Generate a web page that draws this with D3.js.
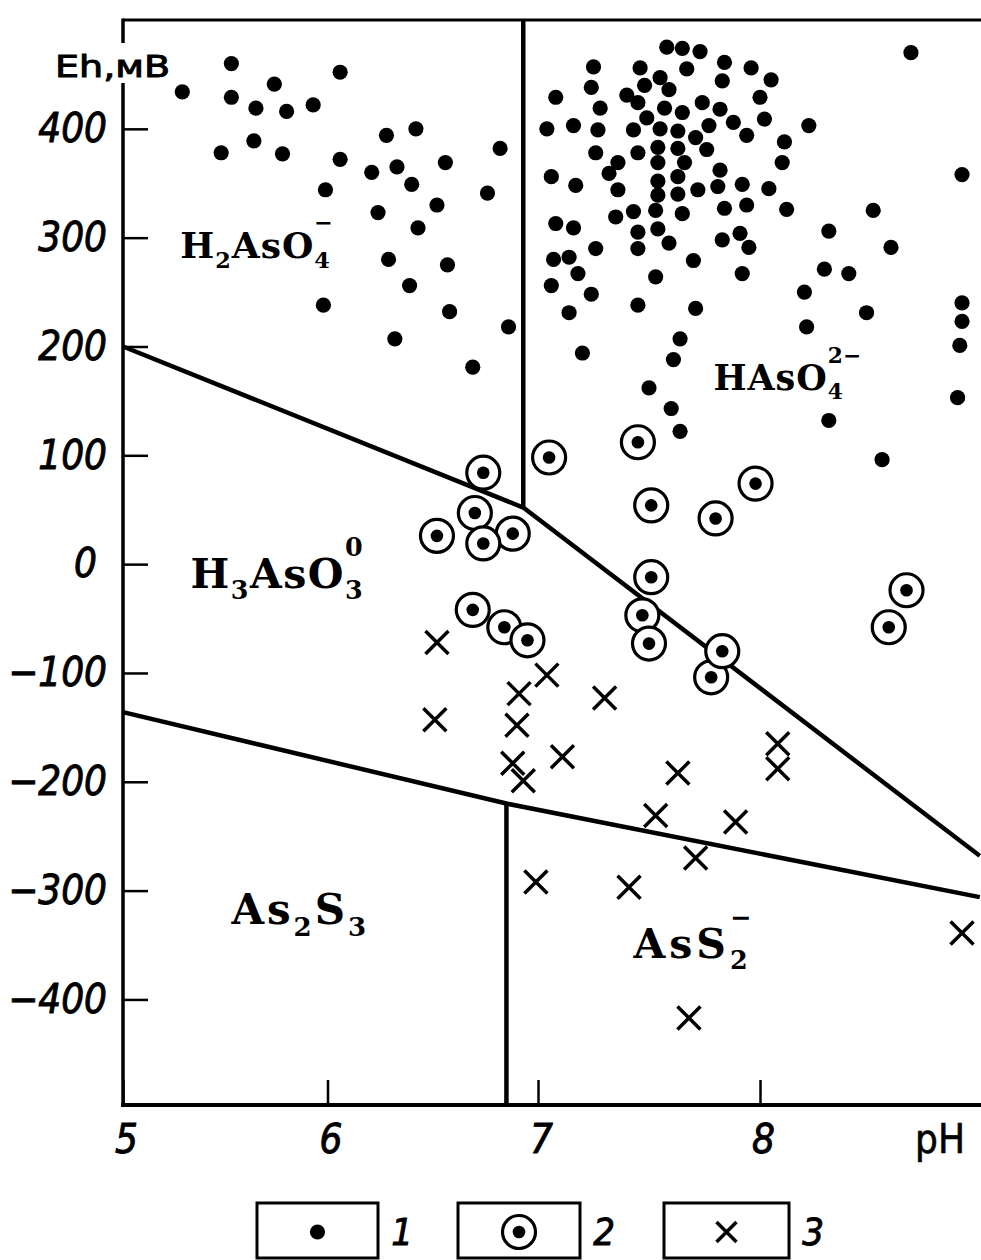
<!DOCTYPE html>
<html>
<head>
<meta charset="utf-8">
<script src="https://cdn.jsdelivr.net/npm/d3@7"></script>
<style>
  html, body { margin: 0; padding: 0; background: #fff; }
  svg { display: block; }
  .tick-label { font-family: "Liberation Sans Narrow", "DejaVu Sans Condensed", sans-serif; font-style: italic; stroke: #000; stroke-width: 0.9px; }
  .species { font-family: "DejaVu Serif", "Liberation Serif", serif; font-weight: bold; fill: #000; }
</style>
</head>
<body>
<svg id="chart" width="981" height="1260"></svg>
<script>
// ---- axis settings -------------------------------------------------------
const xTickValues = [5, 6, 7, 8];
const yTickValues = [-400, -300, -200, -100, 0, 100, 200, 300, 400];
const pHMin = 5, pHMax = 8.99;
const EhMin = -497, EhMax = 500;

// ---- samples: [pH, Eh (mV)] ----------------------------------------------
// legend 1: plain dots
const type1Points = [
  [5.29,434],[5.53,460],[5.53,429],[5.74,441],[5.65,419],[5.80,416],[5.93,422],[6.06,452],
  [5.48,378],[5.64,389],[5.78,377],[5.99,344],[6.28,394],[6.42,400],[6.06,372],[6.21,360],
  [6.33,365],[6.56,369],[6.82,382],[6.40,349],[6.24,323],[6.52,330],[6.76,341],[6.43,309],
  [6.29,280],[6.57,275],[6.39,256],[6.58,232],[5.98,238],[6.86,218],[6.32,207],[6.69,181],
  [7.25,457],[7.08,429],[7.24,438],[7.46,456],[7.28,419],[7.04,400],[7.16,403],[7.27,399],
  [7.40,431],[7.43,399],[7.26,378],[7.45,378],[7.36,369],[7.32,359],[7.36,344],[7.06,356],
  [7.17,348],[7.35,319],[7.43,324],[7.08,313],[7.16,309],[7.45,305],[7.45,290],[7.26,290],
  [7.07,280],[7.14,282],[7.18,267],[7.06,256],[7.24,248],[7.14,231],[7.45,238],[7.53,264],
  [7.20,194],[7.58,475],[7.65,474],[7.73,471],[7.67,455],[7.84,461],[7.96,456],[8.05,445],
  [7.55,447],[7.48,440],[7.59,436],[7.45,424],[7.57,419],[7.65,415],[7.74,424],[7.82,418],
  [7.88,406],[8.00,429],[8.02,409],[7.94,394],[8.11,388],[8.10,369],[7.49,410],[7.55,400],
  [7.63,398],[7.71,392],[7.77,403],[7.76,381],[7.54,383],[7.63,382],[7.54,369],[7.66,369],
  [7.63,356],[7.54,352],[7.54,339],[7.63,340],[7.72,344],[7.82,362],[7.81,347],[7.92,349],
  [8.04,345],[7.53,325],[7.65,322],[7.84,327],[7.94,330],[8.12,326],[7.54,308],[7.59,295],
  [7.83,298],[7.91,304],[7.95,291],[7.70,279],[7.92,267],[7.83,444],[8.22,403],[8.68,470],
  [8.91,358],[8.31,306],[8.51,325],[8.59,291],[8.29,271],[8.40,267],[8.20,250],[8.48,231],
  [8.21,218],[8.91,240],[8.91,223],[8.90,201],[7.71,235],[7.64,207],[7.61,188],[7.50,162],
  [7.60,143],[7.64,122],[8.31,132],[8.55,96],[8.89,153]
];
// legend 2: ringed dots
const type2Points = [
  [6.70,47],[6.88,28],[6.74,84],[6.74,19],[6.52,26],[7.05,98],[7.45,112],[7.51,54],
  [6.84,-58],[6.69,-42],[6.95,-70],[7.47,-47],[7.51,-12],[7.50,-73],[7.98,74],[7.80,42],
  [7.78,-104],[7.83,-80],[8.58,-58],[8.66,-24]
];
// legend 3: crosses
const type3Points = [
  [6.52,-72],[6.51,-143],[6.91,-119],[6.90,-148],[7.04,-102],[7.30,-123],[6.88,-183],
  [6.93,-199],[7.11,-177],[7.63,-192],[7.53,-231],[7.89,-237],[7.71,-270],[8.08,-165],
  [8.08,-188],[6.99,-292],[7.41,-297],[8.91,-339],[7.68,-417]
];

// ---- stability field boundaries: [pH, Eh] ---------------------------------
const boundaryH3AsO3 = [[5, 200], [6.93, 52], [8.99, -268]];
const boundaryH2AsO4HAsO4 = [[6.93, 52], [6.93, 500]];
const boundarySulfide = [[5, -136], [6.85, -220], [8.99, -306]];
const boundaryAs2S3AsS2 = [[6.85, -220], [6.85, -497]];

// ---- species names ---------------------------------------------------------
// each part: [text, "sub"|undefined, stacked superscript]
const speciesNames = [
  { parts: [["H"], ["2", "sub"], ["AsO"], ["4", "sub", "\u2212"]], at: [5.28, 281], size: 36, spacing: 1 },
  { parts: [["HAsO"], ["4", "sub", "2\u2212"]], at: [7.79, 160], size: 35, spacing: 1 },
  { parts: [["H"], ["3", "sub"], ["AsO"], ["3", "sub", "0"]], at: [5.33, -22], size: 41, spacing: 1.5 },
  { parts: [["As"], ["2", "sub"], ["S"], ["3", "sub"]], at: [5.53, -331], size: 42, spacing: 3 },
  { parts: [["AsS"], ["2", "sub", "\u2212"]], at: [7.43, -362], size: 41, spacing: 4 }
];

const legendItems = [
  { kind: "dot", label: "1" },
  { kind: "ring", label: "2" },
  { kind: "cross", label: "3" }
];

// ---- drawing ---------------------------------------------------------------
const svg = d3.select("#chart");
const width = +svg.attr("width");

// the pH divisions of this diagram are not quite evenly spaced
const x = d3.scaleLinear().domain([5, 6, 7, 8, 9]).range([123, 327.5, 538, 760, 982]);
const y = d3.scaleLinear().domain([EhMin, EhMax]).range([1105, 20]);

const x0 = x(pHMin), yTop = y(EhMax), yBot = y(EhMin);

// axes with inward ticks
const xAxis = d3.axisBottom(x).tickValues(xTickValues).tickSizeInner(-25).tickSizeOuter(0)
  .tickPadding(20).tickFormat(d3.format("d"));
const gx = svg.append("g").attr("transform", `translate(0,${yBot})`).call(xAxis);
gx.select(".domain").remove();
gx.selectAll(".tick line").attr("stroke", "#000").attr("stroke-width", 2.5);
gx.selectAll(".tick text").attr("class", "tick-label").attr("font-size", 40).attr("fill", "#000").attr("dx", 3);

const yAxis = d3.axisLeft(y).tickValues(yTickValues).tickSizeInner(-25).tickSizeOuter(0)
  .tickPadding(16).tickFormat(d => d < 0 ? "\u2212" + Math.abs(d) : String(d));
const gy = svg.append("g").attr("transform", `translate(${x0},0)`).call(yAxis);
gy.select(".domain").remove();
gy.selectAll(".tick line").attr("stroke", "#000").attr("stroke-width", 2.5);
gy.selectAll(".tick text").attr("class", "tick-label").attr("font-size", 40).attr("fill", "#000")
  .attr("dx", d => d === 0 ? -10 : 0);

// frame (the right side runs off the sheet)
const frame = svg.append("g").attr("stroke", "#000").attr("fill", "none");
frame.append("line").attr("x1", x0).attr("x2", width).attr("y1", yTop).attr("y2", yTop).attr("stroke-width", 3);
frame.append("line").attr("x1", x0).attr("x2", x0).attr("y1", yTop - 1.5).attr("y2", yBot + 2).attr("stroke-width", 3.5);
frame.append("line").attr("x1", x0 - 1.7).attr("x2", width).attr("y1", yBot).attr("y2", yBot).attr("stroke-width", 4);

// axis titles
svg.append("rect").attr("x", x0 - 7).attr("y", 43).attr("width", 14).attr("height", 40).attr("fill", "#fff");
svg.append("text").attr("x", 55).attr("y", 77)
  .attr("font-family", "'DejaVu Sans Condensed', 'DejaVu Sans', sans-serif")
  .attr("stroke", "#000").attr("stroke-width", 0.9)
  .attr("font-size", 31).attr("textLength", 115).attr("lengthAdjust", "spacingAndGlyphs")
  .text("Eh,мВ");
svg.append("text").attr("x", 940).attr("y", yBot + 48).attr("text-anchor", "middle")
  .attr("font-family", "'Liberation Sans Narrow', 'DejaVu Sans Condensed', sans-serif")
  .attr("stroke", "#000").attr("stroke-width", 0.6)
  .attr("font-size", 40).text("pH");

// boundaries
const line = d3.line().x(d => x(d[0])).y(d => y(d[1]));
svg.append("g").attr("fill", "none").attr("stroke", "#000").attr("stroke-width", 4.5)
  .attr("stroke-linejoin", "round")
  .selectAll("path")
  .data([boundaryH3AsO3, boundaryH2AsO4HAsO4, boundarySulfide, boundaryAs2S3AsS2])
  .join("path").attr("d", line);

// species names with sub/superscripts
function drawFormula(g, px, py, size, parts, spacing) {
  let cx = px;
  parts.forEach(([txt, kind, over]) => {
    if (!kind) {
      const t = g.append("text").attr("x", cx).attr("y", py).attr("font-size", size)
        .attr("letter-spacing", spacing).text(txt);
      cx += t.node().getComputedTextLength();
    } else {
      const s = size * 0.62;
      const t = g.append("text").attr("x", cx).attr("y", py + size * 0.27).attr("font-size", s).text(txt);
      let w = t.node().getComputedTextLength();
      if (over) {
        const o = g.append("text").attr("x", cx).attr("y", py - size * 0.78).attr("font-size", s).text(over);
        w = Math.max(w, o.node().getComputedTextLength());
      }
      cx += w + spacing;
    }
  });
}
const gNames = svg.append("g").attr("class", "species");
speciesNames.forEach(n => drawFormula(gNames, x(n.at[0]), y(n.at[1]), n.size, n.parts, n.spacing));

// markers
function drawDot(g, cx, cy, r) {
  g.append("circle").attr("cx", cx).attr("cy", cy).attr("r", r).attr("fill", "#000");
}
function drawRing(g, cx, cy) {
  g.append("circle").attr("cx", cx).attr("cy", cy).attr("r", 16.5)
    .attr("fill", "#fff").attr("stroke", "#000").attr("stroke-width", 3.2);
  g.append("circle").attr("cx", cx).attr("cy", cy).attr("r", 6.3).attr("fill", "#000");
}
function drawCross(g, cx, cy, h) {
  g.append("path").attr("d", `M${cx - h},${cy - h}L${cx + h},${cy + h}M${cx - h},${cy + h}L${cx + h},${cy - h}`)
    .attr("stroke", "#000").attr("stroke-width", 3.5).attr("fill", "none");
}

const gDots = svg.append("g");
type1Points.forEach(d => drawDot(gDots, x(d[0]), y(d[1]), 7.6));
const gCross = svg.append("g");
type3Points.forEach(d => drawCross(gCross, x(d[0]), y(d[1]), 11.5));
const gRings = svg.append("g");
type2Points.forEach(d => drawRing(gRings, x(d[0]), y(d[1])));

// legend
const legendBoxes = [[257, 378], [458, 580], [664, 789]];
const legendTop = 1203, legendBottom = 1258, legendMid = 1232;
const gLeg = svg.append("g");
legendItems.forEach((item, i) => {
  const [bx0, bx1] = legendBoxes[i];
  gLeg.append("rect").attr("x", bx0).attr("y", legendTop).attr("width", bx1 - bx0)
    .attr("height", legendBottom - legendTop).attr("fill", "none").attr("stroke", "#000").attr("stroke-width", 3);
  const cx = (bx0 + bx1) / 2;
  if (item.kind === "dot") drawDot(gLeg, cx, legendMid, 7.6);
  if (item.kind === "ring") drawRing(gLeg, cx, legendMid);
  if (item.kind === "cross") drawCross(gLeg, cx, legendMid, 10);
  gLeg.append("text").attr("class", "tick-label").attr("x", bx1 + 24).attr("y", 1245)
    .attr("text-anchor", "middle").attr("font-size", 38).text(item.label);
});
</script>
</body>
</html>
